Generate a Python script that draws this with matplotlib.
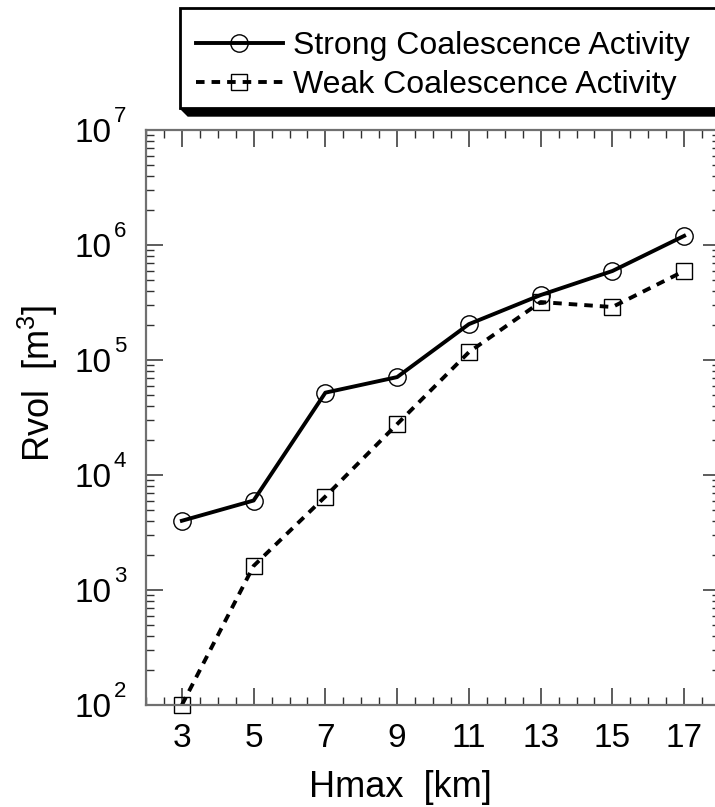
import matplotlib
matplotlib.use("Agg")
import matplotlib.pyplot as plt
from matplotlib.ticker import FixedLocator, MultipleLocator, LogLocator, FuncFormatter, NullFormatter
from matplotlib.patches import Rectangle, Polygon
import numpy as np

plt.rcParams['font.family'] = ['Liberation Sans', 'DejaVu Sans']
plt.rcParams['mathtext.fontset'] = 'custom'
plt.rcParams['mathtext.rm'] = 'Liberation Sans'
plt.rcParams['mathtext.it'] = 'Liberation Sans'

hmax = [3, 5, 7, 9, 11, 13, 15, 17]
strong = [4000, 6000, 52000, 71000, 205000, 367000, 594000, 1200000]
weak = [100, 1620, 6500, 27700, 117000, 319000, 289000, 594000]
x_ticks = [3, 5, 7, 9, 11, 13, 15, 17]
y_exponents = [2, 3, 4, 5, 6, 7]
labels = ["Strong Coalescence Activity", "Weak Coalescence Activity"]

W, H = 715, 807
fig = plt.figure(figsize=(W / 100, H / 100), dpi=100)
ax = fig.add_axes([146 / W, 1 - 705 / H, (720 - 146) / W, (705 - 130) / H])

ax.plot(hmax, strong, color='black', lw=2.8, marker='o', ms=12.5,
        mfc='none', mec='black', mew=1.0, label=labels[0], clip_on=False)
ax.plot(hmax, weak, color='black', lw=2.8, ls=(0, (2.2, 1.8)), marker='s', ms=11.5,
        mfc='none', mec='black', mew=1.0, label=labels[1], clip_on=False)

ax.set_yscale('log')
ax.set_xlim(2, 18)
ax.set_ylim(1e2, 1e7)

ax.xaxis.set_major_locator(FixedLocator(x_ticks))
ax.xaxis.set_minor_locator(MultipleLocator(0.5))
ax.yaxis.set_major_locator(FixedLocator([10.0 ** e for e in y_exponents]))
ax.yaxis.set_minor_locator(LogLocator(base=10, subs=np.arange(2, 10), numticks=10))
ax.yaxis.set_minor_formatter(NullFormatter())
ax.yaxis.set_major_formatter(FuncFormatter(lambda v, p: '10'))

ax.tick_params(which='both', direction='in', top=True, right=True, color='#303030')
ax.tick_params(which='major', length=12, width=1.1)
ax.tick_params(which='minor', length=6, width=1.0)
ax.tick_params(axis='x', which='major', pad=13, labelsize=24)
ax.tick_params(axis='y', which='major', pad=24.5, labelsize=24)
for s in ax.spines.values():
    s.set_color('#707070')
    s.set_linewidth(1.6)

# superscript exponents of the y tick labels
for e in y_exponents:
    ax.annotate(str(e), xy=(0, 10.0 ** e), xycoords=ax.get_yaxis_transform(),
                xytext=(-32, 8), textcoords='offset pixels', ha='left', va='baseline',
                fontsize=16, annotation_clip=False)

ax.set_xlabel('Hmax  [km]', fontsize=26)
ax.xaxis.set_label_coords((400 - 146) / 574, (705 - 797) / 575)
ax.xaxis.label.set_verticalalignment('baseline')
ax.set_ylabel(r'Rvol  [m$^3$]', fontsize=26)
ax.yaxis.set_label_coords((60 - 146) / 574, (705 - 383) / 575)

leg = fig.legend(loc='upper left', bbox_to_anchor=(182 / W, 1 - 17 / H),
                 fontsize=23, frameon=False,
                 handlelength=2.7, handletextpad=0.31, borderpad=0.45,
                 labelspacing=0.28, borderaxespad=0)
leg.set_zorder(5)

fig.canvas.draw()
bb = leg.get_window_extent()
x0 = bb.x0 - 2
x1 = W + 20
y1 = H - 8
y0 = H - 108
sh = 8
shadow = Polygon([(x0, y0), (x0 + sh, y0 - sh), (x1 + sh, y0 - sh), (x1 + sh, y1 - sh), (x1, y1), (x1, y0)],
                 closed=True, transform=None, facecolor='black', edgecolor='black', zorder=4)
fig.patches.append(shadow)
box = Rectangle((x0, y0), x1 - x0, y1 - y0, transform=None, facecolor='white',
                edgecolor='black', lw=2.0, zorder=4.5)
fig.patches.append(box)

fig.savefig('out.png', dpi=100)
